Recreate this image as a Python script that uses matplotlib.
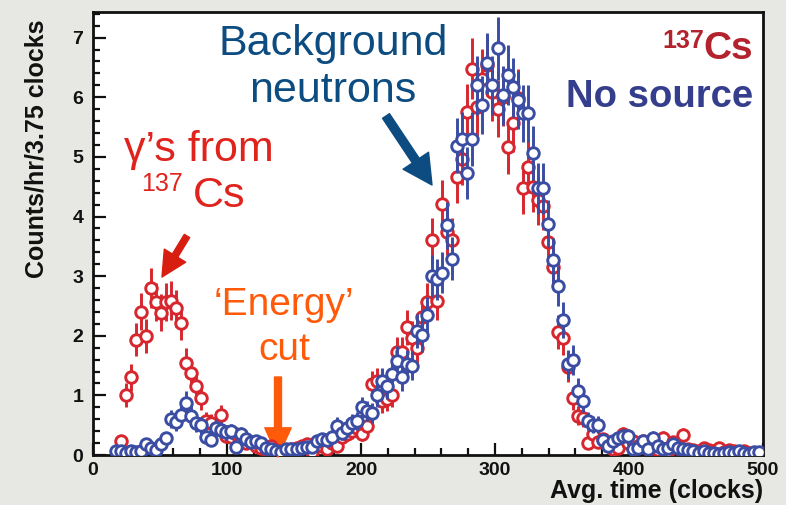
import numpy as np
import matplotlib
matplotlib.use("Agg")
import matplotlib.pyplot as plt

# ---------------- data ----------------
bin_width = 3.75
bin_index = np.arange(4, 133)          # bin numbers shown (bins of 3.75 clocks)
time_clocks = (bin_index + 0.5) * bin_width

cs137_counts = [
    np.nan, 0.24, 1.00, 1.30, 1.93, 2.40, 2.00, 2.80, 2.56, 2.39,   # k4-13
    2.56, 2.59, 2.46, 2.22, 1.55, 1.38, 1.16, 0.95, 0.57, 0.54,     # k14-23
    0.45, 0.67, 0.32, 0.30, 0.35, 0.25, 0.20, 0.22, 0.15, 0.12,     # k24-33
    0.10, 0.15, 0.08, 0.05, 0.05, 0.10, 0.12, 0.15, 0.18, 0.05,     # k34-43
    0.20, 0.15, 0.10, 0.20, 0.15, 0.30, 0.35, 0.40, 0.45, 0.35,     # k44-53
    0.49, 1.19, 1.24, 0.90, 0.94, 1.00, 1.72, 1.72, 2.14, 1.97,     # k54-63
    1.80, 2.31, 2.56, 3.60, 2.58, 4.21, 3.74, 3.60, 4.66, 4.97,     # k64-73
    5.75, 6.48, 5.84, 6.30, 6.54, 6.09, 5.81, 6.01, 5.17, 5.56,     # k74-83
    5.98, 4.47, 4.83, 4.50, 4.27, 4.18, 3.57, 3.15, 2.06, 1.96,     # k84-93
    1.47, 0.95, 0.66, 0.62, 0.20, 0.35, 0.22, 0.27, 0.18, 0.10,     # k94-103
    0.12, 0.35, 0.20, 0.24, 0.15, 0.24, 0.10, 0.15, 0.08, 0.29,     # k104-113
    0.07, 0.22, 0.12, 0.34, 0.10, 0.08, 0.06, 0.12, 0.08, 0.06,     # k114-123
    0.12, 0.05, 0.08, 0.07, 0.04, 0.06, 0.03, np.nan, np.nan,       # k124-132
]

nosource_counts = [
    0.07, 0.07, 0.03, 0.07, 0.05, 0.07, 0.19, 0.12, 0.08, 0.18,     # k4-13
    0.28, 0.60, 0.55, 0.67, 0.88, 0.66, 0.53, 0.50, 0.31, 0.25,     # k14-23
    0.46, 0.42, 0.38, 0.40, 0.14, 0.35, 0.26, 0.22, 0.24, 0.20,     # k24-33
    0.12, 0.10, 0.07, 0.05, 0.10, 0.10, 0.10, 0.11, 0.13, 0.13,     # k34-43
    0.24, 0.26, 0.25, 0.30, 0.49, 0.37, 0.46, 0.54, 0.57, 0.80,     # k44-53
    0.74, 0.71, 1.00, 1.24, 1.15, 1.36, 1.58, 1.30, 1.52, 1.50,     # k54-63
    2.08, 2.02, 2.34, 3.00, 2.95, 3.06, 3.85, 3.29, 5.19, 5.30,     # k64-73
    4.73, 5.30, 6.20, 5.87, 6.57, 6.20, 6.82, 6.03, 6.37, 6.17,     # k74-83
    5.95, 5.73, 5.73, 5.06, 4.47, 4.47, 3.88, 3.27, 2.84, 2.26,     # k84-93
    1.52, 1.60, 1.08, 0.91, 0.57, 0.51, 0.51, 0.25, 0.15, 0.24,     # k94-103
    0.28, 0.32, 0.32, 0.10, 0.12, 0.24, 0.10, 0.29, 0.15, 0.10,     # k104-113
    0.12, 0.18, 0.12, 0.10, 0.08, 0.06, 0.04, 0.06, 0.03, 0.04,     # k114-123
    0.02, 0.04, 0.05, 0.04, 0.06, 0.04, 0.01, 0.05, 0.05,           # k124-132
]

x_ticks = [0, 100, 200, 300, 400, 500]
y_ticks = [0, 1, 2, 3, 4, 5, 6, 7]

# ---------------- style ----------------
W, H = 786, 505
RED = "#d7262e"
BLUE = "#3a4da3"
BG = "#e7e7e3"

plt.rcParams["font.family"] = ["Liberation Sans", "DejaVu Sans"]

fig = plt.figure(figsize=(W / 100, H / 100), dpi=100, facecolor=BG)
ax = fig.add_axes([93 / W, 1 - 455 / H, (763 - 93) / W, (455 - 12) / H])
ax.set_facecolor("white")

def px(x, y):
    return (x / W, 1 - y / H)

red = np.array(cs137_counts, dtype=float)
blue = np.array(nosource_counts, dtype=float)
red_err = 0.2 * np.sqrt(red)
blue_err = 0.2 * np.sqrt(blue)

common = dict(fmt="o", markersize=8.3, markerfacecolor="white", markeredgewidth=2.1,
              elinewidth=2.1, capsize=0)
ax.errorbar(time_clocks, red, yerr=red_err, color=RED, markeredgecolor=RED, zorder=3, **common)
ax.errorbar(time_clocks, blue, yerr=blue_err, color=BLUE, markeredgecolor=BLUE, zorder=4, **common)

ax.set_xlim(0, 500)
ax.set_ylim(0, 7.43)
ax.set_xticks(x_ticks)
ax.set_yticks(y_ticks)
ax.set_xticks(np.arange(0, 501, 20), minor=True)
ax.set_yticks(np.arange(0, 7.41, 0.2), minor=True)
ax.tick_params(which="both", direction="in", width=1.6, colors="#111111",
               labelsize=14, top=False, right=False)
ax.tick_params(which="major", length=9)
ax.tick_params(which="minor", length=5)
ax.tick_params(axis="x", pad=5)
ax.tick_params(axis="y", pad=7)
for lab in ax.get_xticklabels() + ax.get_yticklabels():
    lab.set_fontweight("bold")
for s in ax.spines.values():
    s.set_linewidth(2.0)
    s.set_color("#111111")

fig.text(*px(37, 19), "Counts/hr/3.75 clocks", rotation=90, ha="center", va="top",
         fontsize=18, fontweight="bold", color="#111111")
fig.text(*px(763, 491), "Avg. time (clocks)", ha="right", va="center",
         fontsize=18, fontweight="bold", color="#111111")

# annotations
NAVY = "#0d4c80"
fig.text(*px(333, 44), "Background", ha="center", va="center", fontsize=31, color=NAVY)
fig.text(*px(333, 91), "neutrons", ha="center", va="center", fontsize=31, color=NAVY)
ax.annotate("", xy=px(432, 185), xycoords="figure fraction",
            xytext=px(386, 116), textcoords="figure fraction",
            arrowprops=dict(width=6, headwidth=22, headlength=21, color=NAVY, shrink=0))

GRED = "#e0231c"
fig.text(*px(199, 150), "γ’s from", ha="center", va="center", fontsize=31, color=GRED)
fig.text(*px(183, 184), "137", ha="right", va="center", fontsize=18, color=GRED)
fig.text(*px(193, 196), "Cs", ha="left", va="center", fontsize=31, color=GRED)
ax.annotate("", xy=px(162, 277), xycoords="figure fraction",
            xytext=px(187, 236), textcoords="figure fraction",
            arrowprops=dict(width=4.5, headwidth=18, headlength=18, color="#d81e10", shrink=0))

ORANGE = "#ff5a0a"
fig.text(*px(284, 305), "‘Energy’", ha="center", va="center", fontsize=28, color=ORANGE)
fig.text(*px(284, 350), "cut", ha="center", va="center", fontsize=28, color=ORANGE)
ax.annotate("", xy=px(278, 457), xycoords="figure fraction",
            xytext=px(278, 377), textcoords="figure fraction",
            arrowprops=dict(width=5, headwidth=19, headlength=21, color=ORANGE, shrink=0))

DRED = "#b3232e"
DBLUE = "#353e8c"
fig.text(*px(753, 49), "Cs", ha="right", va="center", fontsize=28, fontweight="bold",
         color=DRED)
fig.text(*px(704, 41), "137", ha="right", va="center", fontsize=18, fontweight="bold",
         color=DRED)
fig.text(*px(753, 97), "No source", ha="right", va="center", fontsize=27.5, fontweight="bold",
         color=DBLUE)

fig.savefig("out.png", dpi=100, facecolor=BG)
